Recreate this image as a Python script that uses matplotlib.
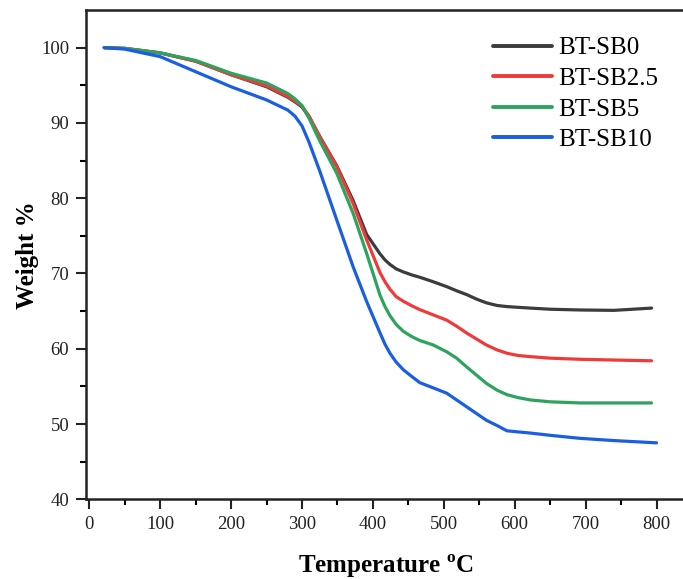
import matplotlib
matplotlib.use("Agg")
import matplotlib.pyplot as plt
from matplotlib.ticker import MultipleLocator, FixedLocator

plt.rcParams['font.family'] = ['Liberation Serif', 'DejaVu Serif']
plt.rcParams['mathtext.fontset'] = 'custom'
plt.rcParams['mathtext.rm'] = 'Liberation Serif'
plt.rcParams['mathtext.bf'] = 'Liberation Serif:bold'

# Temperature points (°C)
temp = [21, 50, 100, 150, 200, 250, 280, 290, 300, 310, 325, 349, 372, 391, 410, 417,
        424, 433, 443, 455, 466, 485, 504, 518, 532, 546, 560, 575, 589, 605, 622, 650,
        692, 740, 793]
temp_sb10 = temp[:-1] + [800]

w_sb0 = [100, 99.9, 99.3, 98.2, 96.4, 94.8, 93.4, 92.8, 92.1, 90.8, 88.2, 84.3, 79.7,
         75.2, 72.6, 71.8, 71.2, 70.6, 70.2, 69.8, 69.5, 68.9, 68.25, 67.7, 67.2, 66.6,
         66.1, 65.75, 65.6, 65.5, 65.4, 65.25, 65.15, 65.1, 65.4]
w_sb25 = [100, 99.9, 99.3, 98.2, 96.4, 94.9, 93.5, 92.9, 92.2, 90.9, 88.1, 84.2, 79.3,
          74.5, 70.1, 68.9, 67.9, 66.9, 66.3, 65.7, 65.2, 64.5, 63.8, 63.0, 62.1, 61.3,
          60.5, 59.85, 59.4, 59.1, 58.95, 58.75, 58.6, 58.5, 58.4]
w_sb5 = [100, 99.9, 99.3, 98.3, 96.6, 95.3, 93.9, 93.2, 92.3, 90.6, 87.6, 83.3, 78.0,
         72.7, 67.1, 65.6, 64.4, 63.2, 62.3, 61.6, 61.1, 60.5, 59.6, 58.75, 57.6, 56.5,
         55.4, 54.5, 53.9, 53.5, 53.2, 52.95, 52.8, 52.8, 52.8]
w_sb10 = [100, 99.8, 98.8, 96.8, 94.8, 93.05, 91.7, 90.9, 89.6, 87.4, 83.6, 77.1, 70.9,
          66.3, 62.1, 60.6, 59.4, 58.2, 57.2, 56.3, 55.5, 54.8, 54.1, 53.2, 52.3, 51.4,
          50.5, 49.8, 49.1, 48.95, 48.8, 48.5, 48.1, 47.8, 47.5]

labels = ['BT-SB0', 'BT-SB2.5', 'BT-SB5', 'BT-SB10']
colors = ['#3c3c3c', '#f03a3a', '#2ea35e', '#1a5fe0']

W, H = 683, 579
fig = plt.figure(figsize=(W / 100, H / 100), dpi=100)
ax = fig.add_axes([85.8 / W, 79.7 / H, (684.9 - 85.8) / W, (569 - 79.7) / H])

series = [(temp, w_sb0), (temp, w_sb25), (temp, w_sb5), (temp_sb10, w_sb10)]
for (t, w), lab, c in zip(series, labels, colors):
    ax.plot(t, w, color=c, lw=2.3, label=lab, solid_capstyle='round', solid_joinstyle='round')

ax.set_xlim(-5, 840)
ax.set_ylim(40, 105)
ax.xaxis.set_major_locator(MultipleLocator(100))
ax.xaxis.set_minor_locator(MultipleLocator(50))
ax.yaxis.set_major_locator(FixedLocator(list(range(40, 101, 10))))
ax.yaxis.set_minor_locator(FixedLocator(list(range(45, 100, 10))))
ax.tick_params(which='major', direction='out', length=7, width=1.5, labelsize=13.5, pad=5,
               colors='#222222')
ax.tick_params(which='minor', direction='out', length=4, width=1.5)
for s in ax.spines.values():
    s.set_linewidth(1.8)
    s.set_color('#222222')

ax.set_xlabel(r'Temperature $^{\mathbf{o}}$C', fontsize=18, fontweight='bold', labelpad=14.5)
ax.set_ylabel('Weight %', fontsize=18, fontweight='bold', labelpad=1.5)

leg = ax.legend(loc='upper left', bbox_to_anchor=(493 / W, 1 - 37 / H),
                bbox_transform=fig.transFigure, frameon=False, fontsize=18,
                handlelength=2.35, handletextpad=0.25, labelspacing=0.32,
                borderpad=0, borderaxespad=0)
for line in leg.get_lines():
    line.set_linewidth(2.8)

fig.savefig('out.png', dpi=100)
